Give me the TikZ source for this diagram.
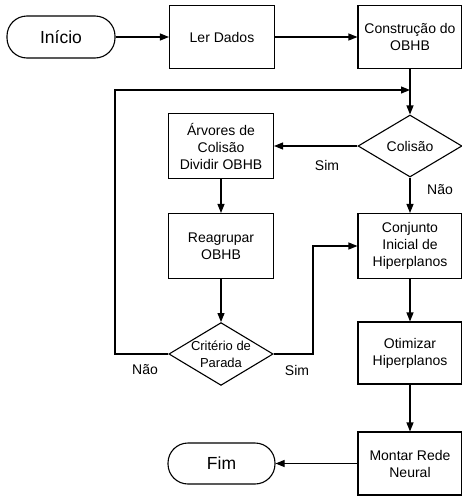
\documentclass[tikz,border=0pt]{standalone}
\usepackage{fontspec}
\setmainfont{Liberation Sans}
\usetikzlibrary{arrows.meta, shapes.geometric}

\begin{document}
\begin{tikzpicture}[
    x=1pt, y=-1pt,
    >={Triangle[length=9pt, width=7pt]},
    line width=1.1pt,
    box/.style={draw, minimum width=105pt, minimum height=63pt, align=center, font=\fontsize{14}{17}\selectfont},
    terminal/.style={draw, minimum width=108pt, minimum height=42pt, rounded corners=20pt, font=\fontsize{17.5}{21}\selectfont},
    decision/.style={draw, diamond, aspect=1.66, inner sep=0pt, minimum width=104pt, minimum height=62pt, align=center, font=\fontsize{14}{17}\selectfont},
    label_font/.style={font=\fontsize{14}{17}\selectfont}
]
    \useasboundingbox (0,0) rectangle (462,498);

    % Top row
    \node[terminal] (inicio) at (61,37) {Início};
    \node[box] (ler) at (222,37) {Ler Dados};
    \node[box, minimum width=104pt] (construcao) at (410,37) {Construção do\\OBHB};

    % Decisions
    \node[decision] (colisao) at (410,146) {Colisão};
    \node[decision, font=\fontsize{13}{17}\selectfont] (criterio) at (221,354) {Critério de\\Parada};

    % Left column
    \node[box, minimum height=65pt] (arvores) at (221,146) {Árvores de\\Colisão\\Dividir OBHB};
    \node[box, minimum height=65pt] (reagrupar) at (221,246) {Reagrupar\\OBHB};
    \node[terminal, minimum width=107pt, minimum height=41pt] (fim) at (221.5,463.5) {Fim};

    % Right column
    \node[box, minimum width=104pt, minimum height=65pt] (conjunto) at (410,246) {Conjunto\\Inicial de\\Hiperplanos};
    \node[box, minimum width=104pt, minimum height=62pt] (otimizar) at (410,353) {Otimizar\\Hiperplanos};
    \node[box, minimum width=104pt] (montar) at (410,463.5) {Montar Rede\\Neural};

    % Connections
    \draw[->] (inicio) -- (ler);
    \draw[->] (ler) -- (construcao);
    \draw[->] (construcao) -- (colisao);
    \draw[->] (colisao) -- (arvores);
    \draw[->] (colisao) -- (conjunto);
    \draw[->] (arvores) -- (reagrupar);
    \draw[->] (reagrupar) -- (criterio);
    \draw[->] (conjunto) -- (otimizar);
    \draw[->] (otimizar) -- (montar);
    \draw[->] (montar) -- (fim);

    % Loop back: Nao
    \coordinate (merge) at (construcao.south |- 0,90);
    \draw[->] (criterio.west) -- (115,354) |- (merge);
    % Sim -> Conjunto
    \draw[->] (criterio.east) -- (313,354) |- (conjunto.west);

    % Labels
    \node[label_font] (sim_col) at (327,165) {Sim};
    \node[label_font] (nao_col) at (440,190) {Não};
    \node[label_font] (nao_crit) at (145,370) {Não};
    \node[label_font] (sim_crit) at (297,370) {Sim};

\end{tikzpicture}
\end{document}
